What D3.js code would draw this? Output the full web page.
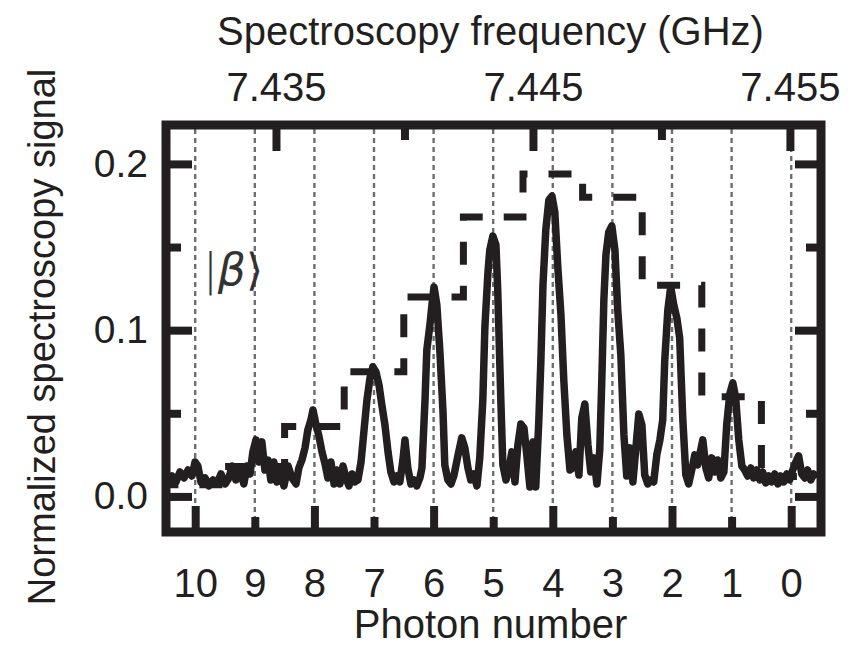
<!DOCTYPE html>
<html>
<head>
<meta charset="utf-8">
<script src="https://cdn.jsdelivr.net/npm/d3@7"></script>
<style>
  body { margin: 0; background: #fff; }
  svg text { font-family: "Liberation Sans", Arial, sans-serif; fill: #231f20; }
</style>
</head>
<body>
<svg id="chart"></svg>
<script>
//photon numbers and the step (expected distribution) levels
const photons = [0, 1, 2, 3, 4, 5, 6, 7, 8, 9, 10];
const stepLevels = [0.012, 0.060, 0.127, 0.180, 0.194, 0.168, 0.120, 0.075, 0.042, 0.018, 0.007];

//top axis ticks
const freqMajor = [7.435, 7.445, 7.455];
const freqMinor = [7.440, 7.450];
const freqLabels = ['7.435', '7.445', '7.455'];

//left / right axis ticks
const yMajor = [0, 0.1, 0.2];
const yMinor = [0.05, 0.15];
const yLabels = ['0.0', '0.1', '0.2'];

//measured spectroscopy signal
const freqGHz = [
  7.43080, 7.43095, 7.43111, 7.43126, 7.43142, 7.43158, 7.43173, 7.43185, 7.43196, 7.43208,
  7.43224, 7.43239, 7.43255, 7.43270, 7.43286, 7.43302, 7.43317, 7.43329, 7.43344, 7.43360,
  7.43375, 7.43387, 7.43399, 7.43410, 7.43422, 7.43434, 7.43445, 7.43457, 7.43469, 7.43480,
  7.43492, 7.43504, 7.43515, 7.43531, 7.43547, 7.43562, 7.43578, 7.43589, 7.43601, 7.43613,
  7.43624, 7.43636, 7.43644, 7.43656, 7.43667, 7.43679, 7.43691, 7.43702, 7.43714, 7.43726,
  7.43737, 7.43749, 7.43761, 7.43772, 7.43784, 7.43796, 7.43807, 7.43819, 7.43831, 7.43842,
  7.43854, 7.43866, 7.43877, 7.43889, 7.43901, 7.43912, 7.43924, 7.43936, 7.43947, 7.43959,
  7.43971, 7.43982, 7.43994, 7.44002, 7.44013, 7.44025, 7.44037, 7.44048, 7.44060, 7.44068,
  7.44080, 7.44087, 7.44099, 7.44107, 7.44115, 7.44126, 7.44138, 7.44150, 7.44157, 7.44169,
  7.44181, 7.44192, 7.44208, 7.44223, 7.44235, 7.44247, 7.44258, 7.44270, 7.44282, 7.44293,
  7.44305, 7.44313, 7.44325, 7.44332, 7.44344, 7.44356, 7.44363, 7.44375, 7.44383, 7.44395,
  7.44406, 7.44418, 7.44430, 7.44441, 7.44453, 7.44465, 7.44476, 7.44488, 7.44500, 7.44511,
  7.44523, 7.44531, 7.44539, 7.44550, 7.44562, 7.44574, 7.44585, 7.44597, 7.44609, 7.44620,
  7.44632, 7.44644, 7.44655, 7.44667, 7.44679, 7.44690, 7.44702, 7.44714, 7.44725, 7.44737,
  7.44749, 7.44760, 7.44768, 7.44776, 7.44784, 7.44795, 7.44807, 7.44819, 7.44830, 7.44842,
  7.44854, 7.44865, 7.44877, 7.44889, 7.44900, 7.44912, 7.44924, 7.44935, 7.44947, 7.44959,
  7.44970, 7.44982, 7.44994, 7.45005, 7.45013, 7.45025, 7.45036, 7.45048, 7.45060, 7.45071,
  7.45083, 7.45095, 7.45106, 7.45118, 7.45130, 7.45141, 7.45153, 7.45161, 7.45173, 7.45184,
  7.45196, 7.45208, 7.45219, 7.45231, 7.45243, 7.45254, 7.45266, 7.45278, 7.45289, 7.45301,
  7.45313, 7.45324, 7.45336, 7.45348, 7.45359, 7.45371, 7.45383, 7.45394, 7.45406, 7.45418,
  7.45429, 7.45441, 7.45453, 7.45464, 7.45476, 7.45488, 7.45499, 7.45511, 7.45523, 7.45534,
  7.45546, 7.45558, 7.45569, 7.45581, 7.45593, 7.45604
];
const signal = [
  0.0099, 0.0123, 0.0087, 0.0147, 0.0111, 0.0159, 0.0123, 0.0207, 0.0183, 0.0087,
  0.0111, 0.0063, 0.0099, 0.0075, 0.0135, 0.0075, 0.0111, 0.0183, 0.0099, 0.0159,
  0.0075, 0.0183, 0.0135, 0.0268, 0.0340, 0.0207, 0.0328, 0.0159, 0.0219, 0.0099,
  0.0207, 0.0087, 0.0159, 0.0063, 0.0183, 0.0111, 0.0075, 0.0171, 0.0219, 0.0292,
  0.0400, 0.0460, 0.0520, 0.0430, 0.0364, 0.0268, 0.0195, 0.0111, 0.0207, 0.0075,
  0.0159, 0.0075, 0.0183, 0.0111, 0.0063, 0.0135, 0.0087, 0.0099, 0.0207, 0.0388,
  0.0580, 0.0713, 0.0779, 0.0749, 0.0670, 0.0550, 0.0430, 0.0268, 0.0147, 0.0087,
  0.0123, 0.0087, 0.0219, 0.0340, 0.0171, 0.0075, 0.0099, 0.0063, 0.0111, 0.0171,
  0.0580, 0.0881, 0.1031, 0.1152, 0.1260, 0.1152, 0.0869, 0.0508, 0.0189, 0.0099,
  0.0075, 0.0123, 0.0244, 0.0352, 0.0292, 0.0171, 0.0099, 0.0135, 0.0063, 0.0232,
  0.0580, 0.1019, 0.1350, 0.1482, 0.1566, 0.1512, 0.1242, 0.0580, 0.0189, 0.0099,
  0.0159, 0.0268, 0.0087, 0.0304, 0.0436, 0.0412, 0.0250, 0.0057, 0.0328, 0.0057,
  0.0460, 0.0821, 0.1272, 0.1603, 0.1783, 0.1807, 0.1711, 0.1374, 0.1091, 0.0701,
  0.0370, 0.0159, 0.0171, 0.0268, 0.0129, 0.0472, 0.0556, 0.0310, 0.0147, 0.0232,
  0.0075, 0.0280, 0.0701, 0.1182, 0.1452, 0.1590, 0.1627, 0.1482, 0.1121, 0.0851,
  0.0370, 0.0123, 0.0292, 0.0087, 0.0280, 0.0496, 0.0430, 0.0129, 0.0075, 0.0099,
  0.0087, 0.0250, 0.0340, 0.0460, 0.0821, 0.1121, 0.1260, 0.1152, 0.1073, 0.0953,
  0.0472, 0.0129, 0.0075, 0.0159, 0.0250, 0.0189, 0.0280, 0.0340, 0.0171, 0.0111,
  0.0232, 0.0147, 0.0219, 0.0111, 0.0147, 0.0430, 0.0616, 0.0683, 0.0592, 0.0340,
  0.0183, 0.0159, 0.0123, 0.0171, 0.0111, 0.0159, 0.0099, 0.0147, 0.0081, 0.0123,
  0.0087, 0.0135, 0.0075, 0.0123, 0.0087, 0.0135, 0.0099, 0.0159, 0.0207, 0.0244,
  0.0135, 0.0111, 0.0159, 0.0099, 0.0135, 0.0111
];

//margin convention
const margin = { top: 125, left: 166, bottom: 121, right: 37 };
const width = 655;
const height = 407;
const ink = '#231f20';

const svg = d3.select('#chart')
    .attr('width', width + margin.left + margin.right)
    .attr('height', height + margin.top + margin.bottom)
  .append('g')
    .attr('transform', 'translate(' + margin.left + ',' + margin.top + ')');

//scales: bottom = photon number, top = frequency, both on the same width
const xFreq = d3.scaleLinear().domain([7.43072, 7.45621]).range([0, width]);
const xPhoton = d3.scaleLinear().domain([10.49, -0.5]).range([0, width]);
const yScale = d3.scaleLinear().domain([-0.0214, 0.2234]).range([height, 0]);

svg.append('clipPath')
    .attr('id', 'plot-clip')
  .append('rect')
    .attr('x', 4).attr('y', 4)
    .attr('width', width - 8).attr('height', height - 8);

//dotted photon-number guides
svg.append('g')
  .selectAll('line')
  .data(photons)
  .enter()
  .append('line')
    .attr('x1', d => xPhoton(d)).attr('x2', d => xPhoton(d))
    .attr('y1', 4).attr('y2', height - 4)
    .attr('stroke', '#6d6e71')
    .attr('stroke-width', 2.4)
    .attr('stroke-dasharray', '5,4');

//step line: one flat segment per photon number
const stepPoints = [];
photons.slice().reverse().forEach(n => {
  const v = stepLevels[n];
  stepPoints.push([n + 0.5, v], [n - 0.5, v]);
});
const stepLine = d3.line()
  .x(d => xPhoton(d[0]))
  .y(d => yScale(d[1]));

svg.append('path')
  .datum(stepPoints)
    .attr('clip-path', 'url(#plot-clip)')
    .attr('d', stepLine)
    .attr('fill', 'none')
    .attr('stroke', ink)
    .attr('stroke-width', 7)
    .attr('stroke-dasharray', '23,21')
    .attr('stroke-dashoffset', 10);

//measured signal
const sigLine = d3.line()
  .x((d, i) => xFreq(freqGHz[i]))
  .y(d => yScale(d));

svg.append('path')
  .datum(signal)
    .attr('clip-path', 'url(#plot-clip)')
    .attr('d', sigLine)
    .attr('fill', 'none')
    .attr('stroke', ink)
    .attr('stroke-width', 7.5)
    .attr('stroke-linejoin', 'round');

//axes, ticks pointing inwards
function styleAxis(g, size) {
  g.select('.domain').remove();
  g.selectAll('.tick line').attr('stroke', ink).attr('stroke-width', 8);
  g.selectAll('.tick text').attr('font-size', size).attr('font-family', null).attr('fill', ink);
}

//bottom: photon number
svg.append('g')
  .attr('transform', 'translate(0,' + height + ')')
  .call(d3.axisBottom(xPhoton).tickValues(photons.filter(n => n % 2 === 0)).tickSize(-26).tickFormat(''))
  .call(g => styleAxis(g, 40));
svg.append('g')
  .attr('transform', 'translate(0,' + height + ')')
  .call(d3.axisBottom(xPhoton).tickValues(photons.filter(n => n % 2 === 1)).tickSize(-15).tickFormat(''))
  .call(g => styleAxis(g, 40));
svg.append('g')
  .attr('transform', 'translate(0,' + height + ')')
  .call(d3.axisBottom(xPhoton).tickValues(photons).tickSize(0).tickPadding(37).tickFormat(d3.format('d')))
  .call(g => styleAxis(g, 40));

//top: frequency
svg.append('g')
  .call(d3.axisTop(xFreq).tickValues(freqMajor).tickSize(0).tickPadding(24)
    .tickFormat((d, i) => freqLabels[i]))
  .call(g => styleAxis(g, 40));
svg.append('g')
  .call(d3.axisTop(xFreq).tickValues(freqMajor).tickSize(-26).tickFormat(''))
  .call(g => styleAxis(g, 40));
svg.append('g')
  .call(d3.axisTop(xFreq).tickValues(freqMinor).tickSize(-15).tickFormat(''))
  .call(g => styleAxis(g, 40));

//left
svg.append('g')
  .call(d3.axisLeft(yScale).tickValues(yMajor).tickSize(0).tickPadding(18)
    .tickFormat((d, i) => yLabels[i]))
  .call(g => styleAxis(g, 39));
svg.append('g')
  .call(d3.axisLeft(yScale).tickValues(yMajor).tickSize(-26).tickFormat(''))
  .call(g => styleAxis(g, 39));
svg.append('g')
  .call(d3.axisLeft(yScale).tickValues(yMinor).tickSize(-15).tickFormat(''))
  .call(g => styleAxis(g, 39));

//right
svg.append('g')
  .attr('transform', 'translate(' + width + ',0)')
  .call(d3.axisRight(yScale).tickValues(yMajor).tickSize(-26).tickFormat(''))
  .call(g => styleAxis(g, 39));
svg.append('g')
  .attr('transform', 'translate(' + width + ',0)')
  .call(d3.axisRight(yScale).tickValues(yMinor).tickSize(-15).tickFormat(''))
  .call(g => styleAxis(g, 39));

//frame
svg.append('rect')
  .attr('width', width).attr('height', height)
  .attr('fill', 'none')
  .attr('stroke', ink)
  .attr('stroke-width', 9);

//titles
svg.append('text')
  .attr('x', width / 2 - 3).attr('y', -80)
  .attr('text-anchor', 'middle')
  .style('font-size', '40px')
  .text('Spectroscopy frequency (GHz)');

svg.append('text')
  .attr('x', width / 2 - 3).attr('y', height + 106)
  .attr('text-anchor', 'middle')
  .style('font-size', '40px')
  .text('Photon number');

svg.append('text')
  .attr('transform', 'translate(' + (55 - margin.left) + ',' + (337 - margin.top) + ') rotate(-90)')
  .attr('text-anchor', 'middle')
  .style('font-size', '38px')
  .text('Normalized spectroscopy signal');

//coherent state label
const ket = svg.append('text')
  .attr('x', 37).attr('y', 160)
  .style('font-family', '"DejaVu Sans", sans-serif')
  .style('font-weight', 200)
  .style('font-size', '44px')
  .style('fill', '#333');
ket.append('tspan').text('|');
ket.append('tspan').style('font-style', 'italic').text('\u03B2');
ket.append('tspan').text('\u27E9');
</script>
</body>
</html>
